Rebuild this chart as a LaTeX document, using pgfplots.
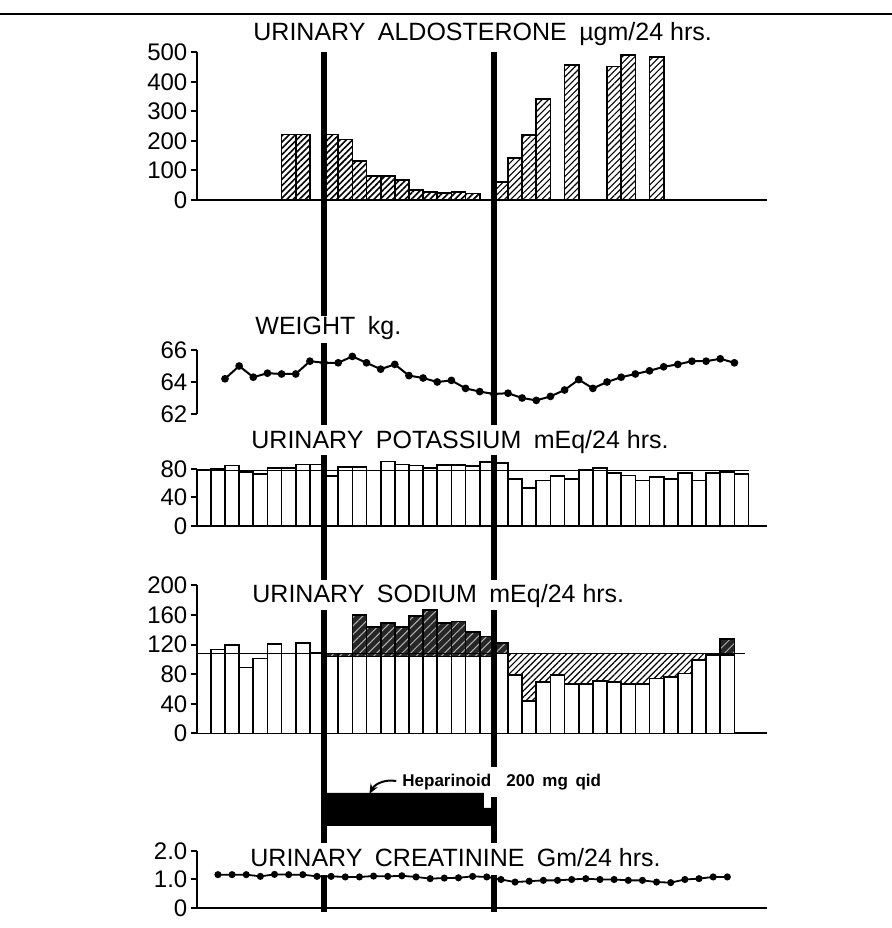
\documentclass[border=0pt]{standalone}
\usepackage{pgfplots}
\pgfplotsset{compat=1.18}
\usepackage{pgfplotstable}
\usepackage{fontspec}
\setmainfont{Liberation Sans}
\usetikzlibrary{patterns.meta,arrows.meta}

% Aldosterone (bar centres, ug/24h)
\pgfplotstableread{
x y
6.5 222
7.5 222
9.5 222
10.5 205
11.5 132
12.5 82
13.5 82
14.5 68
15.5 34
16.5 28
17.5 23
18.5 28
19.5 22
}\aldoA
\pgfplotstableread{
x y
21.5 60
22.5 141
23.5 220
24.5 342
26.5 456
29.5 452
30.5 490
32.5 483
}\aldoB
% Weight kg
\pgfplotstableread{
x y
2 64.2
3 65.0
4 64.3
5 64.55
6 64.5
7 64.5
8 65.3
9 65.2
10 65.2
11 65.6
12 65.2
13 64.8
14 65.1
15 64.4
16 64.25
17 64.0
18 64.1
19 63.6
20 63.4
21 63.25
22 63.3
23 63.0
24 62.85
25 63.1
26 63.5
27 64.15
28 63.6
29 64.0
30 64.3
31 64.5
32 64.7
33 64.95
34 65.1
35 65.3
36 65.3
37 65.45
38 65.2
}\weight
% Urinary potassium
\pgfplotstableread{
x y
0.5 79.4
1.5 80.3
2.5 85
3.5 75.7
4.5 73.4
5.5 81.7
6.5 81.7
7.5 86.3
8.5 86.3
9.5 70
10.5 82.6
11.5 82.6
12.5 78
13.5 90.5
14.5 86.3
15.5 85
16.5 81.7
17.5 85.9
18.5 85.9
19.5 84
20.5 89.6
21.5 88.6
22.5 65.5
23.5 53.5
24.5 64
25.5 69.7
26.5 66.4
27.5 79
28.5 81.7
29.5 74.3
30.5 71
31.5 64
32.5 68.8
33.5 65.5
34.5 74.3
35.5 64
36.5 74.3
37.5 75.7
38.5 73.4
}\potassium
% Urinary sodium: excess above control (dark)
\pgfplotstableread{
x y
9.5 108
10.5 108
11.5 160
12.5 144
13.5 149.5
14.5 144
15.5 158.5
16.5 166.7
17.5 149.5
18.5 151
19.5 137
20.5 131
21.5 122
37.5 127.5
}\sodiumHigh
% deficit region up to control level
\pgfplotstableread{
x y
22.5 108
23.5 108
24.5 108
25.5 108
26.5 108
27.5 108
28.5 108
29.5 108
30.5 108
31.5 108
32.5 108
33.5 108
34.5 108
35.5 108
36.5 108
}\sodiumRef
% white bars
\pgfplotstableread{
x y
0.5 108
1.5 113.5
2.5 119.5
3.5 89
4.5 101
5.5 121
6.5 108
7.5 122
8.5 109
9.5 104
10.5 104
11.5 104
12.5 104
13.5 104
14.5 104
15.5 104
16.5 104
17.5 104
18.5 104
19.5 104
20.5 104
21.5 108
22.5 79
23.5 44
24.5 69
25.5 79
26.5 67
27.5 67
28.5 71
29.5 69
30.5 67
31.5 67
32.5 74
33.5 76.5
34.5 81
35.5 99
36.5 106
37.5 106
}\sodiumWhite
% Creatinine
\pgfplotstableread{
x y
1.5 1.17
2.5 1.17
3.5 1.17
4.5 1.11
5.5 1.18
6.5 1.17
7.5 1.17
8.5 1.11
9.5 1.11
10.5 1.09
11.5 1.09
12.5 1.12
13.5 1.11
14.5 1.13
15.5 1.09
16.5 1.03
17.5 1.05
18.5 1.06
19.5 1.11
20.5 1.09
21.5 1.0
22.5 0.91
23.5 0.94
24.5 0.97
25.5 0.97
26.5 1.0
27.5 1.03
28.5 1.0
29.5 1.0
30.5 0.97
31.5 0.97
32.5 0.91
33.5 0.89
34.5 1.0
35.5 1.03
36.5 1.09
37.5 1.09
}\creat

\pgfplotsset{
  panel/.style={
    x=7.075pt, xmin=0, xmax=40.3,
    anchor=south west, clip=false,
    axis x line*=bottom, axis y line*=left,
    axis line style={-, line width=1pt},
    xtick=\empty,
    tick align=outside, major tick length=3pt,
    every tick/.style={black, line width=1pt},
    tick label style={font=\fontsize{12}{12}\selectfont, inner sep=1.5pt},
    /pgf/number format/assume math mode=true,
  },
  barw/.style={ybar, bar width=1, bar shift=0pt, draw=black, line width=0.85pt},
}

\begin{document}
\begin{tikzpicture}[x=0.5pt,y=0.5pt]
\useasboundingbox (0,0) rectangle (892,928);
\draw[line width=1pt] (0,914) -- (892,914);

% ---------- Aldosterone
\begin{axis}[panel, at={(98.35pt,364pt)}, y=0.1477pt, ymin=0, ymax=500,
  ytick={0,100,200,300,400,500}]
\addplot[barw, fill=white, postaction={pattern={Lines[angle=45,distance=2.2pt,line width=0.8pt]}}] table {\aldoA};
\addplot[barw, fill=white, postaction={pattern={Lines[angle=45,distance=2.2pt,line width=0.55pt]}}] table {\aldoB};
\end{axis}

% ---------- Weight
\begin{axis}[panel, at={(98.35pt,257pt)}, y=8pt, ymin=62, ymax=66,
  axis x line=none, ytick={62,64,66}]
\addplot[black, line width=1pt, mark=*, mark size=1.4pt] table {\weight};
\end{axis}

% ---------- Potassium
\begin{axis}[panel, at={(98.35pt,201pt)}, y=0.35625pt, ymin=0, ymax=80,
  ytick={0,40,80}]
\addplot[barw, fill=white] table {\potassium};
\addplot[black, line width=0.8pt] coordinates {(0,78) (39,78)};
\end{axis}

% ---------- Sodium
\begin{axis}[panel, at={(98.35pt,97.25pt)}, y=0.3707pt, ymin=0, ymax=200,
  ytick={0,40,80,120,160,200}]
\addplot[barw, fill=black!85, postaction={pattern={Lines[angle=45,distance=3pt,line width=0.5pt]}, pattern color=gray!60}] table {\sodiumHigh};
\addplot[ybar, bar width=1, bar shift=0pt, draw=none, fill=white, postaction={pattern={Lines[angle=45,distance=2.2pt,line width=0.6pt]}}] table {\sodiumRef};
\addplot[barw, fill=white] table {\sodiumWhite};
\addplot[black, line width=0.8pt] coordinates {(0,108) (38.75,108)};
\end{axis}

% ---------- Creatinine
\begin{axis}[panel, at={(98.35pt,10pt)}, y=14.25pt, ymin=0, ymax=2,
  ytick={0,1,2}, yticklabels={0,1.0,2.0}]
\addplot[black, line width=0.9pt, mark=*, mark size=1.3pt] table {\creat};
\end{axis}

% ---------- overlay: treatment period markers
\begin{axis}[at={(98.35pt,0pt)}, anchor=south west, x=7.075pt, y=0.5pt,
  xmin=0, xmax=40.3, ymin=0, ymax=928, hide axis, clip=false]
\addplot[black, line width=3pt] coordinates {(9,876) (9,612)};
\addplot[black, line width=3pt] coordinates {(9,585) (9,503)};
\addplot[black, line width=3pt] coordinates {(9,473) (9,348)};
\addplot[black, line width=3pt] coordinates {(9,318) (9,85)};
\addplot[black, line width=3pt] coordinates {(9,53) (9,16)};
\addplot[black, line width=3pt] coordinates {(21,876) (21,503)};
\addplot[black, line width=3pt] coordinates {(21,473) (21,348)};
\addplot[black, line width=3pt] coordinates {(21,318) (21,161)};
\addplot[black, line width=3pt] coordinates {(21,131) (21,85)};
\addplot[black, line width=3pt] coordinates {(21,53) (21,16)};
% heparinoid bar
\addplot[fill=black, draw=none] coordinates {(9,135) (20.3,135) (20.3,120) (20.85,120) (20.85,102) (9,102)} -- cycle;
\draw[-{Stealth[length=5pt,width=4pt]}, line width=1pt] (axis cs:14.1,147) to[bend right=35] (axis cs:12.2,134);
\end{axis}

% ---------- titles
\node[anchor=west, inner sep=0pt, font=\fontsize{12.5}{13}\selectfont] at (253,894) {URINARY\hspace{0.5em}ALDOSTERONE\hspace{0.5em}µgm/24 hrs.};
\node[anchor=west, inner sep=0pt, font=\fontsize{12.5}{13}\selectfont] at (255,600) {WEIGHT\hspace{0.5em}kg.};
\node[anchor=west, inner sep=0pt, font=\fontsize{12.5}{13}\selectfont] at (251,486) {URINARY\hspace{0.5em}POTASSIUM\hspace{0.5em}mEq/24 hrs.};
\node[anchor=west, inner sep=0pt, font=\fontsize{12.5}{13}\selectfont] at (252,332) {URINARY\hspace{0.5em}SODIUM\hspace{0.5em}mEq/24 hrs.};
\node[anchor=west, inner sep=0pt, font=\fontsize{12.5}{13}\selectfont] at (250,70) {URINARY\hspace{0.5em}CREATININE\hspace{0.5em}Gm/24 hrs.};
\node[anchor=west, inner sep=0pt, font=\bfseries\fontsize{8.5}{10}\selectfont] at (402,146) {Heparinoid};
\node[anchor=west, inner sep=0pt, font=\bfseries\fontsize{8.5}{10}\selectfont] at (506,146) {200\hspace{0.45em}mg\hspace{0.45em}qid};
\end{tikzpicture}
\end{document}
